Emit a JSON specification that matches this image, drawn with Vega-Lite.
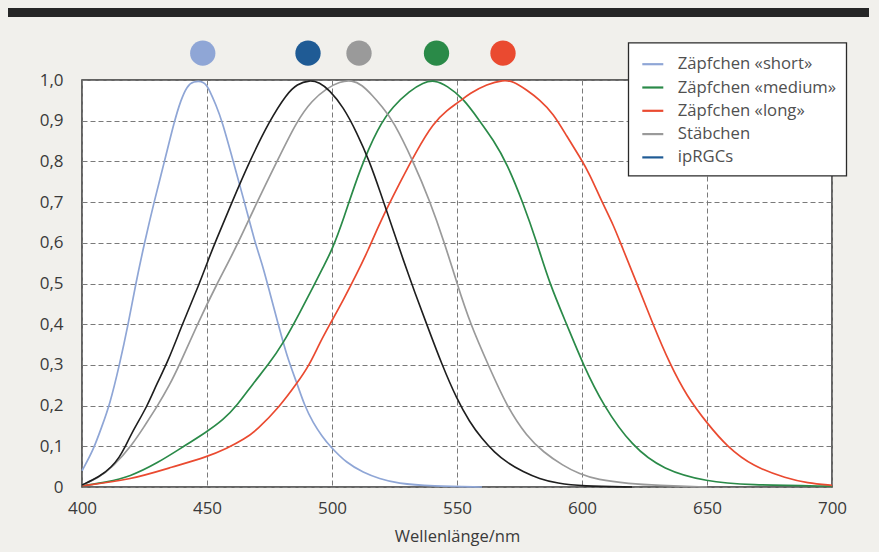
{
  "$schema": "https://vega.github.io/schema/vega-lite/v6.json",
  "autosize": {"type": "none"},
  "padding": {"left": 82, "top": 80, "right": 47, "bottom": 65},
  "width": 750,
  "height": 407,
  "background": "#f1f0ec",
  "config": {
    "view": {"fill": "white", "stroke": "#333", "strokeWidth": 1.5},
    "font": "Open Sans",
    "legend": {"strokeWidth": 1.3},
    "axis": {
      "grid": true, "gridDash": [5, 3], "gridColor": "#7a7a7a", "gridWidth": 1,
      "ticks": false, "domain": false,
      "labelFont": "Open Sans", "labelFontSize": 17, "labelColor": "#3a3a3a",
      "titleFont": "Open Sans", "titleFontSize": 16.5, "titleFontWeight": "normal", "titleColor": "#3a3a3a"
    }
  },
  "datasets": {
    "curves": [
      {"s": "Zäpfchen «short»", "x": 400, "y": 0.04},
      {"s": "Zäpfchen «short»", "x": 404.5, "y": 0.09},
      {"s": "Zäpfchen «short»", "x": 408, "y": 0.15},
      {"s": "Zäpfchen «short»", "x": 411, "y": 0.2},
      {"s": "Zäpfchen «short»", "x": 415, "y": 0.3},
      {"s": "Zäpfchen «short»", "x": 418.5, "y": 0.4},
      {"s": "Zäpfchen «short»", "x": 421.5, "y": 0.5},
      {"s": "Zäpfchen «short»", "x": 425, "y": 0.6},
      {"s": "Zäpfchen «short»", "x": 428.8, "y": 0.7},
      {"s": "Zäpfchen «short»", "x": 433, "y": 0.8},
      {"s": "Zäpfchen «short»", "x": 437, "y": 0.9},
      {"s": "Zäpfchen «short»", "x": 439.5, "y": 0.95},
      {"s": "Zäpfchen «short»", "x": 442, "y": 0.985},
      {"s": "Zäpfchen «short»", "x": 444.5, "y": 0.997},
      {"s": "Zäpfchen «short»", "x": 449, "y": 0.997},
      {"s": "Zäpfchen «short»", "x": 451, "y": 0.975},
      {"s": "Zäpfchen «short»", "x": 453.5, "y": 0.94},
      {"s": "Zäpfchen «short»", "x": 456, "y": 0.9},
      {"s": "Zäpfchen «short»", "x": 460.5, "y": 0.8},
      {"s": "Zäpfchen «short»", "x": 465, "y": 0.7},
      {"s": "Zäpfchen «short»", "x": 469.2, "y": 0.6},
      {"s": "Zäpfchen «short»", "x": 472, "y": 0.55},
      {"s": "Zäpfchen «short»", "x": 475, "y": 0.48},
      {"s": "Zäpfchen «short»", "x": 478.5, "y": 0.4},
      {"s": "Zäpfchen «short»", "x": 482, "y": 0.32},
      {"s": "Zäpfchen «short»", "x": 486, "y": 0.255},
      {"s": "Zäpfchen «short»", "x": 489, "y": 0.2},
      {"s": "Zäpfchen «short»", "x": 492.5, "y": 0.157},
      {"s": "Zäpfchen «short»", "x": 496, "y": 0.125},
      {"s": "Zäpfchen «short»", "x": 499.2, "y": 0.1},
      {"s": "Zäpfchen «short»", "x": 506, "y": 0.058},
      {"s": "Zäpfchen «short»", "x": 512.5, "y": 0.036},
      {"s": "Zäpfchen «short»", "x": 519, "y": 0.02},
      {"s": "Zäpfchen «short»", "x": 526, "y": 0.009},
      {"s": "Zäpfchen «short»", "x": 540, "y": 0.002},
      {"s": "Zäpfchen «short»", "x": 560, "y": 0.0},

      {"s": "Zäpfchen «medium»", "x": 400, "y": 0.003},
      {"s": "Zäpfchen «medium»", "x": 410, "y": 0.012},
      {"s": "Zäpfchen «medium»", "x": 419, "y": 0.025},
      {"s": "Zäpfchen «medium»", "x": 430, "y": 0.058},
      {"s": "Zäpfchen «medium»", "x": 440.5, "y": 0.099},
      {"s": "Zäpfchen «medium»", "x": 450, "y": 0.136},
      {"s": "Zäpfchen «medium»", "x": 456.5, "y": 0.165},
      {"s": "Zäpfchen «medium»", "x": 462, "y": 0.2},
      {"s": "Zäpfchen «medium»", "x": 468.5, "y": 0.255},
      {"s": "Zäpfchen «medium»", "x": 474.5, "y": 0.3},
      {"s": "Zäpfchen «medium»", "x": 480.5, "y": 0.353},
      {"s": "Zäpfchen «medium»", "x": 487, "y": 0.427},
      {"s": "Zäpfchen «medium»", "x": 492.5, "y": 0.492},
      {"s": "Zäpfchen «medium»", "x": 496.5, "y": 0.541},
      {"s": "Zäpfchen «medium»", "x": 500, "y": 0.582},
      {"s": "Zäpfchen «medium»", "x": 504.5, "y": 0.656},
      {"s": "Zäpfchen «medium»", "x": 511, "y": 0.779},
      {"s": "Zäpfchen «medium»", "x": 518.5, "y": 0.885},
      {"s": "Zäpfchen «medium»", "x": 524.5, "y": 0.936},
      {"s": "Zäpfchen «medium»", "x": 531, "y": 0.973},
      {"s": "Zäpfchen «medium»", "x": 536.5, "y": 0.994},
      {"s": "Zäpfchen «medium»", "x": 541, "y": 1.0},
      {"s": "Zäpfchen «medium»", "x": 546, "y": 0.986},
      {"s": "Zäpfchen «medium»", "x": 552.5, "y": 0.955},
      {"s": "Zäpfchen «medium»", "x": 559, "y": 0.9},
      {"s": "Zäpfchen «medium»", "x": 564.5, "y": 0.853},
      {"s": "Zäpfchen «medium»", "x": 570, "y": 0.795},
      {"s": "Zäpfchen «medium»", "x": 576.5, "y": 0.697},
      {"s": "Zäpfchen «medium»", "x": 582, "y": 0.6},
      {"s": "Zäpfchen «medium»", "x": 587, "y": 0.5},
      {"s": "Zäpfchen «medium»", "x": 594, "y": 0.398},
      {"s": "Zäpfchen «medium»", "x": 600.5, "y": 0.3},
      {"s": "Zäpfchen «medium»", "x": 608.5, "y": 0.2},
      {"s": "Zäpfchen «medium»", "x": 620, "y": 0.1},
      {"s": "Zäpfchen «medium»", "x": 632.5, "y": 0.042},
      {"s": "Zäpfchen «medium»", "x": 650, "y": 0.013},
      {"s": "Zäpfchen «medium»", "x": 666, "y": 0.005},
      {"s": "Zäpfchen «medium»", "x": 700, "y": 0.002},

      {"s": "Zäpfchen «long»", "x": 400, "y": 0.003},
      {"s": "Zäpfchen «long»", "x": 419, "y": 0.017},
      {"s": "Zäpfchen «long»", "x": 436.5, "y": 0.05},
      {"s": "Zäpfchen «long»", "x": 450, "y": 0.074},
      {"s": "Zäpfchen «long»", "x": 458, "y": 0.095},
      {"s": "Zäpfchen «long»", "x": 465, "y": 0.118},
      {"s": "Zäpfchen «long»", "x": 470, "y": 0.14},
      {"s": "Zäpfchen «long»", "x": 479, "y": 0.197},
      {"s": "Zäpfchen «long»", "x": 486, "y": 0.255},
      {"s": "Zäpfchen «long»", "x": 491, "y": 0.3},
      {"s": "Zäpfchen «long»", "x": 495, "y": 0.353},
      {"s": "Zäpfchen «long»", "x": 499, "y": 0.398},
      {"s": "Zäpfchen «long»", "x": 504.5, "y": 0.459},
      {"s": "Zäpfchen «long»", "x": 510, "y": 0.525},
      {"s": "Zäpfchen «long»", "x": 514.5, "y": 0.582},
      {"s": "Zäpfchen «long»", "x": 519, "y": 0.648},
      {"s": "Zäpfchen «long»", "x": 527, "y": 0.746},
      {"s": "Zäpfchen «long»", "x": 534, "y": 0.828},
      {"s": "Zäpfchen «long»", "x": 540.5, "y": 0.894},
      {"s": "Zäpfchen «long»", "x": 546, "y": 0.926},
      {"s": "Zäpfchen «long»", "x": 551, "y": 0.947},
      {"s": "Zäpfchen «long»", "x": 555, "y": 0.967},
      {"s": "Zäpfchen «long»", "x": 562, "y": 0.99},
      {"s": "Zäpfchen «long»", "x": 568.5, "y": 1.0},
      {"s": "Zäpfchen «long»", "x": 572.5, "y": 0.997},
      {"s": "Zäpfchen «long»", "x": 578, "y": 0.975},
      {"s": "Zäpfchen «long»", "x": 583, "y": 0.952},
      {"s": "Zäpfchen «long»", "x": 588.5, "y": 0.918},
      {"s": "Zäpfchen «long»", "x": 594, "y": 0.861},
      {"s": "Zäpfchen «long»", "x": 599, "y": 0.812},
      {"s": "Zäpfchen «long»", "x": 603, "y": 0.77},
      {"s": "Zäpfchen «long»", "x": 608, "y": 0.7},
      {"s": "Zäpfchen «long»", "x": 612.5, "y": 0.645},
      {"s": "Zäpfchen «long»", "x": 616, "y": 0.59},
      {"s": "Zäpfchen «long»", "x": 622, "y": 0.5},
      {"s": "Zäpfchen «long»", "x": 628.5, "y": 0.398},
      {"s": "Zäpfchen «long»", "x": 635, "y": 0.304},
      {"s": "Zäpfchen «long»", "x": 642, "y": 0.222},
      {"s": "Zäpfchen «long»", "x": 650, "y": 0.157},
      {"s": "Zäpfchen «long»", "x": 658, "y": 0.099},
      {"s": "Zäpfchen «long»", "x": 668.5, "y": 0.05},
      {"s": "Zäpfchen «long»", "x": 682, "y": 0.021},
      {"s": "Zäpfchen «long»", "x": 690, "y": 0.01},
      {"s": "Zäpfchen «long»", "x": 700, "y": 0.004},

      {"s": "Stäbchen", "x": 400, "y": 0.005},
      {"s": "Stäbchen", "x": 406, "y": 0.02},
      {"s": "Stäbchen", "x": 412.5, "y": 0.05},
      {"s": "Stäbchen", "x": 420.5, "y": 0.107},
      {"s": "Stäbchen", "x": 425, "y": 0.15},
      {"s": "Stäbchen", "x": 430, "y": 0.197},
      {"s": "Stäbchen", "x": 435, "y": 0.25},
      {"s": "Stäbchen", "x": 439, "y": 0.3},
      {"s": "Stäbchen", "x": 446, "y": 0.398},
      {"s": "Stäbchen", "x": 454, "y": 0.5},
      {"s": "Stäbchen", "x": 461, "y": 0.58},
      {"s": "Stäbchen", "x": 470, "y": 0.7},
      {"s": "Stäbchen", "x": 478, "y": 0.8},
      {"s": "Stäbchen", "x": 486, "y": 0.9},
      {"s": "Stäbchen", "x": 492, "y": 0.95},
      {"s": "Stäbchen", "x": 498, "y": 0.98},
      {"s": "Stäbchen", "x": 503, "y": 0.996},
      {"s": "Stäbchen", "x": 508, "y": 1.0},
      {"s": "Stäbchen", "x": 512, "y": 0.988},
      {"s": "Stäbchen", "x": 516, "y": 0.963},
      {"s": "Stäbchen", "x": 520, "y": 0.935},
      {"s": "Stäbchen", "x": 524.5, "y": 0.9},
      {"s": "Stäbchen", "x": 532.5, "y": 0.8},
      {"s": "Stäbchen", "x": 539, "y": 0.705},
      {"s": "Stäbchen", "x": 545, "y": 0.6},
      {"s": "Stäbchen", "x": 550, "y": 0.5},
      {"s": "Stäbchen", "x": 555.5, "y": 0.398},
      {"s": "Stäbchen", "x": 562.5, "y": 0.3},
      {"s": "Stäbchen", "x": 570, "y": 0.197},
      {"s": "Stäbchen", "x": 578, "y": 0.124},
      {"s": "Stäbchen", "x": 584.5, "y": 0.086},
      {"s": "Stäbchen", "x": 592.5, "y": 0.052},
      {"s": "Stäbchen", "x": 599, "y": 0.032},
      {"s": "Stäbchen", "x": 606, "y": 0.018},
      {"s": "Stäbchen", "x": 619, "y": 0.008},
      {"s": "Stäbchen", "x": 630, "y": 0.004},
      {"s": "Stäbchen", "x": 650, "y": 0.0},

      {"s": "ipRGCs", "x": 400, "y": 0.005},
      {"s": "ipRGCs", "x": 407, "y": 0.025},
      {"s": "ipRGCs", "x": 412, "y": 0.05},
      {"s": "ipRGCs", "x": 415, "y": 0.074},
      {"s": "ipRGCs", "x": 417, "y": 0.095},
      {"s": "ipRGCs", "x": 420.5, "y": 0.14},
      {"s": "ipRGCs", "x": 426, "y": 0.197},
      {"s": "ipRGCs", "x": 430, "y": 0.255},
      {"s": "ipRGCs", "x": 434.5, "y": 0.31},
      {"s": "ipRGCs", "x": 440, "y": 0.398},
      {"s": "ipRGCs", "x": 447, "y": 0.5},
      {"s": "ipRGCs", "x": 450.5, "y": 0.558},
      {"s": "ipRGCs", "x": 453.2, "y": 0.6},
      {"s": "ipRGCs", "x": 460, "y": 0.7},
      {"s": "ipRGCs", "x": 467, "y": 0.8},
      {"s": "ipRGCs", "x": 475, "y": 0.9},
      {"s": "ipRGCs", "x": 482, "y": 0.967},
      {"s": "ipRGCs", "x": 486, "y": 0.99},
      {"s": "ipRGCs", "x": 491, "y": 1.0},
      {"s": "ipRGCs", "x": 495, "y": 0.994},
      {"s": "ipRGCs", "x": 499, "y": 0.975},
      {"s": "ipRGCs", "x": 504.5, "y": 0.934},
      {"s": "ipRGCs", "x": 510, "y": 0.87},
      {"s": "ipRGCs", "x": 515, "y": 0.8},
      {"s": "ipRGCs", "x": 519, "y": 0.73},
      {"s": "ipRGCs", "x": 524, "y": 0.64},
      {"s": "ipRGCs", "x": 528.5, "y": 0.558},
      {"s": "ipRGCs", "x": 533, "y": 0.48},
      {"s": "ipRGCs", "x": 538, "y": 0.398},
      {"s": "ipRGCs", "x": 544, "y": 0.3},
      {"s": "ipRGCs", "x": 550, "y": 0.215},
      {"s": "ipRGCs", "x": 555, "y": 0.16},
      {"s": "ipRGCs", "x": 560, "y": 0.118},
      {"s": "ipRGCs", "x": 565, "y": 0.085},
      {"s": "ipRGCs", "x": 570, "y": 0.06},
      {"s": "ipRGCs", "x": 576.5, "y": 0.037},
      {"s": "ipRGCs", "x": 583, "y": 0.02},
      {"s": "ipRGCs", "x": 590, "y": 0.009},
      {"s": "ipRGCs", "x": 600, "y": 0.002},
      {"s": "ipRGCs", "x": 620, "y": 0.0}
    ],
    "peaks": [
      {"s": "Zäpfchen «short»", "x": 448.3},
      {"s": "ipRGCs", "x": 490.4},
      {"s": "Stäbchen", "x": 510.8},
      {"s": "Zäpfchen «medium»", "x": 541.8},
      {"s": "Zäpfchen «long»", "x": 568.4}
    ]
  },
  "layer": [
    {
      "data": {"values": [{}]},
      "mark": {"type": "rule", "color": "#262626", "strokeWidth": 9, "clip": false},
      "encoding": {
        "x": {"datum": 370.4, "type": "quantitative"},
        "x2": {"datum": 714.8},
        "y": {"datum": 1.166, "type": "quantitative"}
      }
    },
    {
      "data": {"name": "curves"},
      "transform": [{"filter": "datum.s != 'ipRGCs'"}],
      "mark": {"type": "line", "interpolate": "basis", "strokeWidth": 1.7},
      "encoding": {
        "x": {
          "field": "x", "type": "quantitative",
          "scale": {"domain": [400, 700], "nice": false, "zero": false},
          "axis": {"values": [400, 450, 500, 550, 600, 650, 700], "title": "Wellenlänge/nm", "labelPadding": 13, "titlePadding": 12, "labelFlush": false}
        },
        "y": {
          "field": "y", "type": "quantitative",
          "scale": {"domain": [0, 1], "nice": false},
          "axis": {
            "values": [0, 0.1, 0.2, 0.3, 0.4, 0.5, 0.6, 0.7, 0.8, 0.9, 1.0],
            "labelExpr": "datum.value == 0 ? '0' : replace(format(datum.value, '.1f'), '.', ',')",
            "title": null, "labelPadding": 19, "labelFlush": false
          }
        },
        "color": {
          "field": "s", "type": "nominal",
          "scale": {
            "domain": ["Zäpfchen «short»", "Zäpfchen «medium»", "Zäpfchen «long»", "Stäbchen", "ipRGCs"],
            "range": ["#8fa6d6", "#2a8a48", "#ea4a30", "#9a9a9a", "#1f5b95"]
          },
          "legend": {
            "title": null, "orient": "none", "legendX": 546.3, "legendY": -37.3,
            "direction": "vertical",
            "symbolType": "stroke", "symbolSize": 441, "symbolStrokeWidth": 2.2,
            "symbolOffset": 3,
            "labelFont": "Open Sans", "labelFontSize": 16.7, "labelColor": "#505050",
            "labelOffset": 13,
            "padding": 9.5, "rowPadding": 2.3,
            "fillColor": "white", "strokeColor": "#2a2a2a",
            "labelLimit": 300
          }
        },
        "detail": {"field": "s"}
      }
    },
    {
      "data": {"name": "curves"},
      "transform": [{"filter": "datum.s == 'ipRGCs'"}],
      "mark": {"type": "line", "interpolate": "basis", "strokeWidth": 1.6, "color": "#1e1e1e"},
      "encoding": {
        "x": {"field": "x", "type": "quantitative"},
        "y": {"field": "y", "type": "quantitative"}
      }
    },
    {
      "data": {"name": "peaks"},
      "mark": {"type": "point", "filled": true, "opacity": 1, "size": 640, "clip": false},
      "encoding": {
        "x": {"field": "x", "type": "quantitative"},
        "y": {"datum": 1.066, "type": "quantitative"},
        "color": {"field": "s", "type": "nominal"}
      }
    }
  ]
}
